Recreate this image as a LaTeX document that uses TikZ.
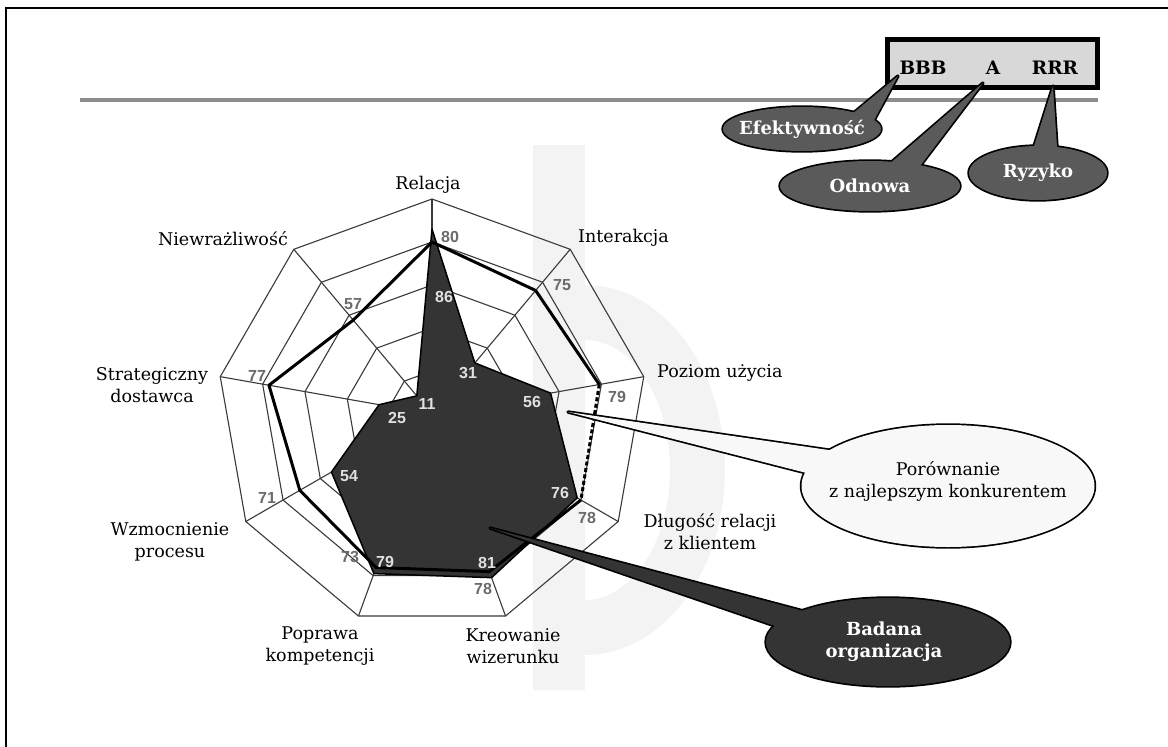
\documentclass[tikz,border=0pt]{standalone}
\usepackage{fontspec}
\newfontfamily\numfont{Liberation Sans}
\newfontfamily\labelfont{DejaVu Serif}
\usetikzlibrary{calc}
\definecolor{darkfill}{HTML}{343434}
\definecolor{bubble}{HTML}{5A5A5A}
\definecolor{boxfill}{HTML}{D8D8D8}
\definecolor{rulegray}{HTML}{8C8C8C}
\definecolor{gridc}{HTML}{3A3A3A}
\definecolor{lightbubble}{HTML}{F8F8F8}
\definecolor{watermark}{HTML}{F3F3F3}
% outline of a speech bubble: thick strokes first, fills on top keep only the outer contour
\newcommand{\calloutshape}[5]{%
  \draw[line width=3.4pt, line join=round] #2 -- #3 -- #4 -- cycle;
  \draw[line width=3.4pt] #5;
  \fill[#1] #2 -- #3 -- #4 -- cycle;
  \fill[#1] #5;
}
\begin{document}
\begin{tikzpicture}[x=1pt,y=-1pt,
  axislabel/.style={font=\labelfont\fontsize{17.5}{22}\selectfont, align=center, inner sep=0pt},
  numin/.style={font=\numfont\bfseries\fontsize{16}{16}\selectfont, text=black!12, inner sep=0pt},
  numout/.style={font=\numfont\bfseries\fontsize{16}{16}\selectfont, text=black!58, inner sep=0pt},
  bubbletext/.style={font=\labelfont\bfseries\fontsize{18}{22}\selectfont, text=white, align=center, inner sep=0pt},
  lettertext/.style={font=\labelfont\bfseries\fontsize{18.5}{18.5}\selectfont, inner sep=0pt},
  gridline/.style={draw=gridc, line width=1.1pt},
]
\useasboundingbox (0,0) rectangle (1168,747);
\fill[white] (0,0) rectangle (1168,747);

% faint background emblem behind the chart
\fill[watermark] (533,145) rectangle (585,690);
\fill[watermark, even odd rule]
  (585,285) arc[start angle=90, end angle=-90, x radius=140, y radius=-185] -- cycle
  (585,340) arc[start angle=90, end angle=-90, x radius=85, y radius=-130] -- cycle;

% page frame (left and top edges)
\draw[line width=1.6pt] (6,747) -- (6,8) -- (1168,8);

% grey rule under the heading
\draw[rulegray, line width=4pt] (80,100) -- (1098,100);

% ---------------- radar chart ----------------
\def\rr{2.15}
\begin{scope}[shift={(432,414)}, y=1pt]
  % rings
  \foreach \k in {1,...,5}{
    \draw[gridline] (90:{43*\k})
      \foreach \a in {50,10,-30,-70,-110,-150,170,130}{ -- (\a:{43*\k}) } -- cycle;
  }
  % spokes
  \foreach \a [count=\i] in {90,50,10,-30,-70,-110,-150,170,130}{
    \coordinate (ax\i) at (\a:215);
    \draw[gridline] (0,0) -- (ax\i);
  }
  % examined organisation
  \coordinate (o1) at (90:{\rr*86});
  \coordinate (o2) at (50:{\rr*31});
  \coordinate (o3) at (10:{\rr*56});
  \coordinate (o4) at (-30:{\rr*78});
  \coordinate (o5) at (-70:{\rr*81});
  \coordinate (o6) at (-110:{\rr*79});
  \coordinate (o7) at (-150:{\rr*54});
  \coordinate (o8) at (170:{\rr*25});
  \coordinate (o9) at (130:{\rr*11});
  \filldraw[fill=darkfill, draw=black, line width=1.5pt, line join=round]
    (o1) -- (o2) -- (o3) -- (o4) -- (o5) -- (o6) -- (o7) -- (o8) -- (o9) -- cycle;
  % best competitor
  \coordinate (c1) at (90:{\rr*80});
  \coordinate (c2) at (50:{\rr*75});
  \coordinate (c3) at (10:{\rr*79});
  \coordinate (c4) at (-30:{\rr*80});
  \coordinate (c5) at (-70:{\rr*78});
  \coordinate (c6) at (-110:{\rr*76});
  \coordinate (c7) at (-150:{\rr*71});
  \coordinate (c8) at (170:{\rr*77});
  \coordinate (c9) at (130:{\rr*57});
  \draw[line width=3pt, line join=round]
    (c3) -- (c2) -- (c1) -- (c9) -- (c8) -- (c7) -- (c6) -- (c5) -- (c4);
  \draw[line width=3pt, dash pattern=on 4pt off 2.5pt] (c3) -- (c4);
\end{scope}

% axis labels
\node[axislabel] (lRel) at (428,185) {Relacja};
\node[axislabel, anchor=west] (lInt) at (578,238) {Interakcja};
\node[axislabel, anchor=east] (lNie) at (288,239) {Niewrażliwość};
\node[axislabel] (lStr) at (152,385) {Strategiczny\\dostawca};
\node[axislabel, anchor=west] (lPoz) at (657,373) {Poziom użycia};
\node[axislabel] (lDlu) at (710,532) {Długość relacji\\z klientem};
\node[axislabel] (lKre) at (513,646) {Kreowanie\\wizerunku};
\node[axislabel] (lPop) at (320,646) {Poprawa\\kompetencji};
\node[axislabel] (lWzm) at (170,542) {Wzmocnienie\\procesu};

% values
\node[numout] (v80) at (450,237) {80};
\node[numin]  (v86) at (444,297) {86};
\node[numout] (v75) at (562,285) {75};
\node[numin]  (v31) at (468,373) {31};
\node[numin]  (v56) at (532,402) {56};
\node[numout] (v79a) at (617,397) {79};
\node[numin]  (v76) at (560,493) {76};
\node[numout] (v78a) at (587,518) {78};
\node[numin]  (v81) at (487,563) {81};
\node[numout] (v78b) at (483,589) {78};
\node[numin]  (v79b) at (385,562) {79};
\node[numout] (v73) at (350,557) {73};
\node[numin]  (v54) at (349,476) {54};
\node[numout] (v71) at (267,498) {71};
\node[numout] (v77) at (257,376) {77};
\node[numout] (v57) at (353,304) {57};
\node[numin]  (v25) at (397,418) {25};
\node[numin]  (v11) at (427,404) {11};

% ---------------- rating box ----------------
\node[draw, line width=5pt, fill=boxfill, minimum width=210pt, minimum height=48pt, inner sep=0pt] (score) at (992.5,63.5) {};
\node[lettertext] (bbb) at (923,68) {BBB};
\node[lettertext] (aa) at (993,68) {A};
\node[lettertext] (rrr) at (1055,68) {RRR};

% callouts for the rating letters
\coordinate (tipE) at (898,76);
\calloutshape{bubble}{(tipE)}{(845,120)}{(872,124)}{(802,129) ellipse [x radius=79, y radius=22]}
\node[bubbletext] (eff) at (802,129) {Efektywność};

\coordinate (tipO) at (983,83);
\calloutshape{bubble}{(tipO)}{(880,172)}{(914,174)}{(870,186) ellipse [x radius=90, y radius=25]}
\node[bubbletext] (odn) at (870,186) {Odnowa};

\coordinate (tipR) at (1053,86);
\calloutshape{bubble}{(tipR)}{(1029,162)}{(1058,162)}{(1038,173) ellipse [x radius=69, y radius=27]}
\node[bubbletext] (ryz) at (1038,173) {Ryzyko};

% callout: best competitor
\coordinate (tipC) at (568,412);
\calloutshape{lightbubble}{(tipC)}{(856,454)}{(826,478)}{(948,486) ellipse [x radius=146.5, y radius=61]}
\node[axislabel] (cmp) at (948,481) {Porównanie\\z najlepszym konkurentem};

% callout: examined organisation
\coordinate (tipB) at (490,528);
\calloutshape{darkfill}{(tipB)}{(830,618)}{(810,638)}{(888,642) ellipse [x radius=122, y radius=44]}
\node[bubbletext] (org) at (884,642) {Badana\\organizacja};

\end{tikzpicture}
\end{document}
